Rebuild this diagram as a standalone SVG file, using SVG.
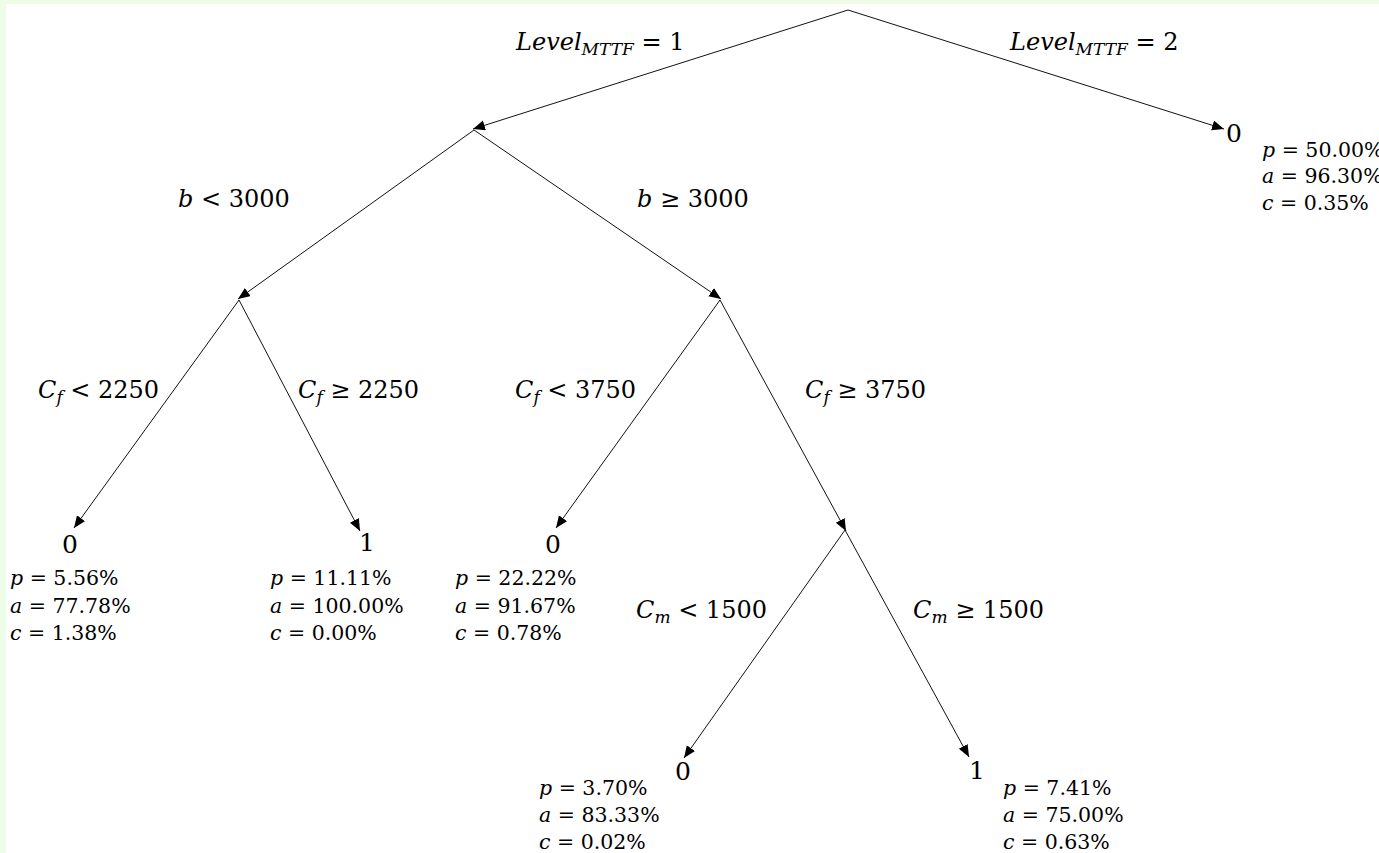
<svg xmlns="http://www.w3.org/2000/svg" width="1379" height="853" viewBox="0 0 1379 853">
<style>
text { font-family: "DejaVu Serif", "Liberation Serif", serif; fill: #000; }
.lbl { font-size: 24px; }
.leaf { font-size: 20.5px; }
.cls { font-size: 25px; }
.i { font-style: italic; }
.sub { font-size: 17px; font-style: italic; }
.edge { stroke: #111; stroke-width: 1; fill: none; marker-end: url(#arr); }
</style>
<defs>
<marker id="arr" markerUnits="userSpaceOnUse" markerWidth="13" markerHeight="11" refX="12" refY="5" orient="auto">
<path d="M0,0 L12,5 L0,10 z" fill="#000"/>
</marker>
</defs>
<rect x="0" y="0" width="1379" height="853" fill="#ffffff"/>
<rect x="0" y="0" width="1379" height="4" fill="#eefde8"/>
<rect x="0" y="0" width="6" height="853" fill="#eefde8"/>

<g id="connectors">
<path class="edge" d="M848,10 L473,129"/>
<path class="edge" d="M848,10 L1224,129"/>
<path class="edge" d="M474,130 L238,299"/>
<path class="edge" d="M474,130 L721,299"/>
<path class="edge" d="M239,300 L74,528"/>
<path class="edge" d="M239,300 L360,531"/>
<path class="edge" d="M720,300 L556,528"/>
<path class="edge" d="M720,300 L846,531"/>
<path class="edge" d="M845,530 L684,758"/>
<path class="edge" d="M845,530 L969,757"/>
</g>

<g id="edge-labels">
<text class="lbl" x="516" y="50" xml:space="preserve"><tspan class="i">Level</tspan><tspan class="sub" dy="5">MTTF</tspan><tspan dy="-5"> = 1</tspan></text>
<text class="lbl" x="1010" y="50" xml:space="preserve"><tspan class="i">Level</tspan><tspan class="sub" dy="5">MTTF</tspan><tspan dy="-5"> = 2</tspan></text>
<text class="lbl" x="178" y="207" xml:space="preserve"><tspan class="i">b</tspan> &lt; 3000</text>
<text class="lbl" x="637" y="207" xml:space="preserve"><tspan class="i">b</tspan> ≥ 3000</text>
<text class="lbl" x="38" y="398" xml:space="preserve"><tspan class="i">C</tspan><tspan class="sub" dy="5">f</tspan><tspan dy="-5"> &lt; 2250</tspan></text>
<text class="lbl" x="298" y="398" xml:space="preserve"><tspan class="i">C</tspan><tspan class="sub" dy="5">f</tspan><tspan dy="-5"> ≥ 2250</tspan></text>
<text class="lbl" x="515" y="398" xml:space="preserve"><tspan class="i">C</tspan><tspan class="sub" dy="5">f</tspan><tspan dy="-5"> &lt; 3750</tspan></text>
<text class="lbl" x="805" y="398" xml:space="preserve"><tspan class="i">C</tspan><tspan class="sub" dy="5">f</tspan><tspan dy="-5"> ≥ 3750</tspan></text>
<text class="lbl" x="636" y="618" xml:space="preserve"><tspan class="i">C</tspan><tspan class="sub" dy="5">m</tspan><tspan dy="-5"> &lt; 1500</tspan></text>
<text class="lbl" x="913" y="618" xml:space="preserve"><tspan class="i">C</tspan><tspan class="sub" dy="5">m</tspan><tspan dy="-5"> ≥ 1500</tspan></text>
</g>

<g id="leaf-mttf2">
<text class="cls" x="1226" y="142">0</text>
<text class="leaf" x="1262" y="157" xml:space="preserve"><tspan class="i">p</tspan> = 50.00%</text>
<text class="leaf" x="1262" y="183" xml:space="preserve"><tspan class="i">a</tspan> = 96.30%</text>
<text class="leaf" x="1262" y="210" xml:space="preserve"><tspan class="i">c</tspan> = 0.35%</text>
</g>

<g id="leaf-1">
<text class="cls" x="62" y="553">0</text>
<text class="leaf" x="10" y="585" xml:space="preserve"><tspan class="i">p</tspan> = 5.56%</text>
<text class="leaf" x="10" y="613" xml:space="preserve"><tspan class="i">a</tspan> = 77.78%</text>
<text class="leaf" x="10" y="640" xml:space="preserve"><tspan class="i">c</tspan> = 1.38%</text>
</g>

<g id="leaf-2">
<text class="cls" x="359" y="551">1</text>
<text class="leaf" x="270" y="585" xml:space="preserve"><tspan class="i">p</tspan> = 11.11%</text>
<text class="leaf" x="270" y="613" xml:space="preserve"><tspan class="i">a</tspan> = 100.00%</text>
<text class="leaf" x="270" y="640" xml:space="preserve"><tspan class="i">c</tspan> = 0.00%</text>
</g>

<g id="leaf-3">
<text class="cls" x="545" y="553">0</text>
<text class="leaf" x="455" y="585" xml:space="preserve"><tspan class="i">p</tspan> = 22.22%</text>
<text class="leaf" x="455" y="613" xml:space="preserve"><tspan class="i">a</tspan> = 91.67%</text>
<text class="leaf" x="455" y="640" xml:space="preserve"><tspan class="i">c</tspan> = 0.78%</text>
</g>

<g id="leaf-4">
<text class="cls" x="675" y="780">0</text>
<text class="leaf" x="539" y="795" xml:space="preserve"><tspan class="i">p</tspan> = 3.70%</text>
<text class="leaf" x="539" y="822" xml:space="preserve"><tspan class="i">a</tspan> = 83.33%</text>
<text class="leaf" x="539" y="849" xml:space="preserve"><tspan class="i">c</tspan> = 0.02%</text>
</g>

<g id="leaf-5">
<text class="cls" x="969" y="779">1</text>
<text class="leaf" x="1003" y="795" xml:space="preserve"><tspan class="i">p</tspan> = 7.41%</text>
<text class="leaf" x="1003" y="822" xml:space="preserve"><tspan class="i">a</tspan> = 75.00%</text>
<text class="leaf" x="1003" y="849" xml:space="preserve"><tspan class="i">c</tspan> = 0.63%</text>
</g>
</svg>
